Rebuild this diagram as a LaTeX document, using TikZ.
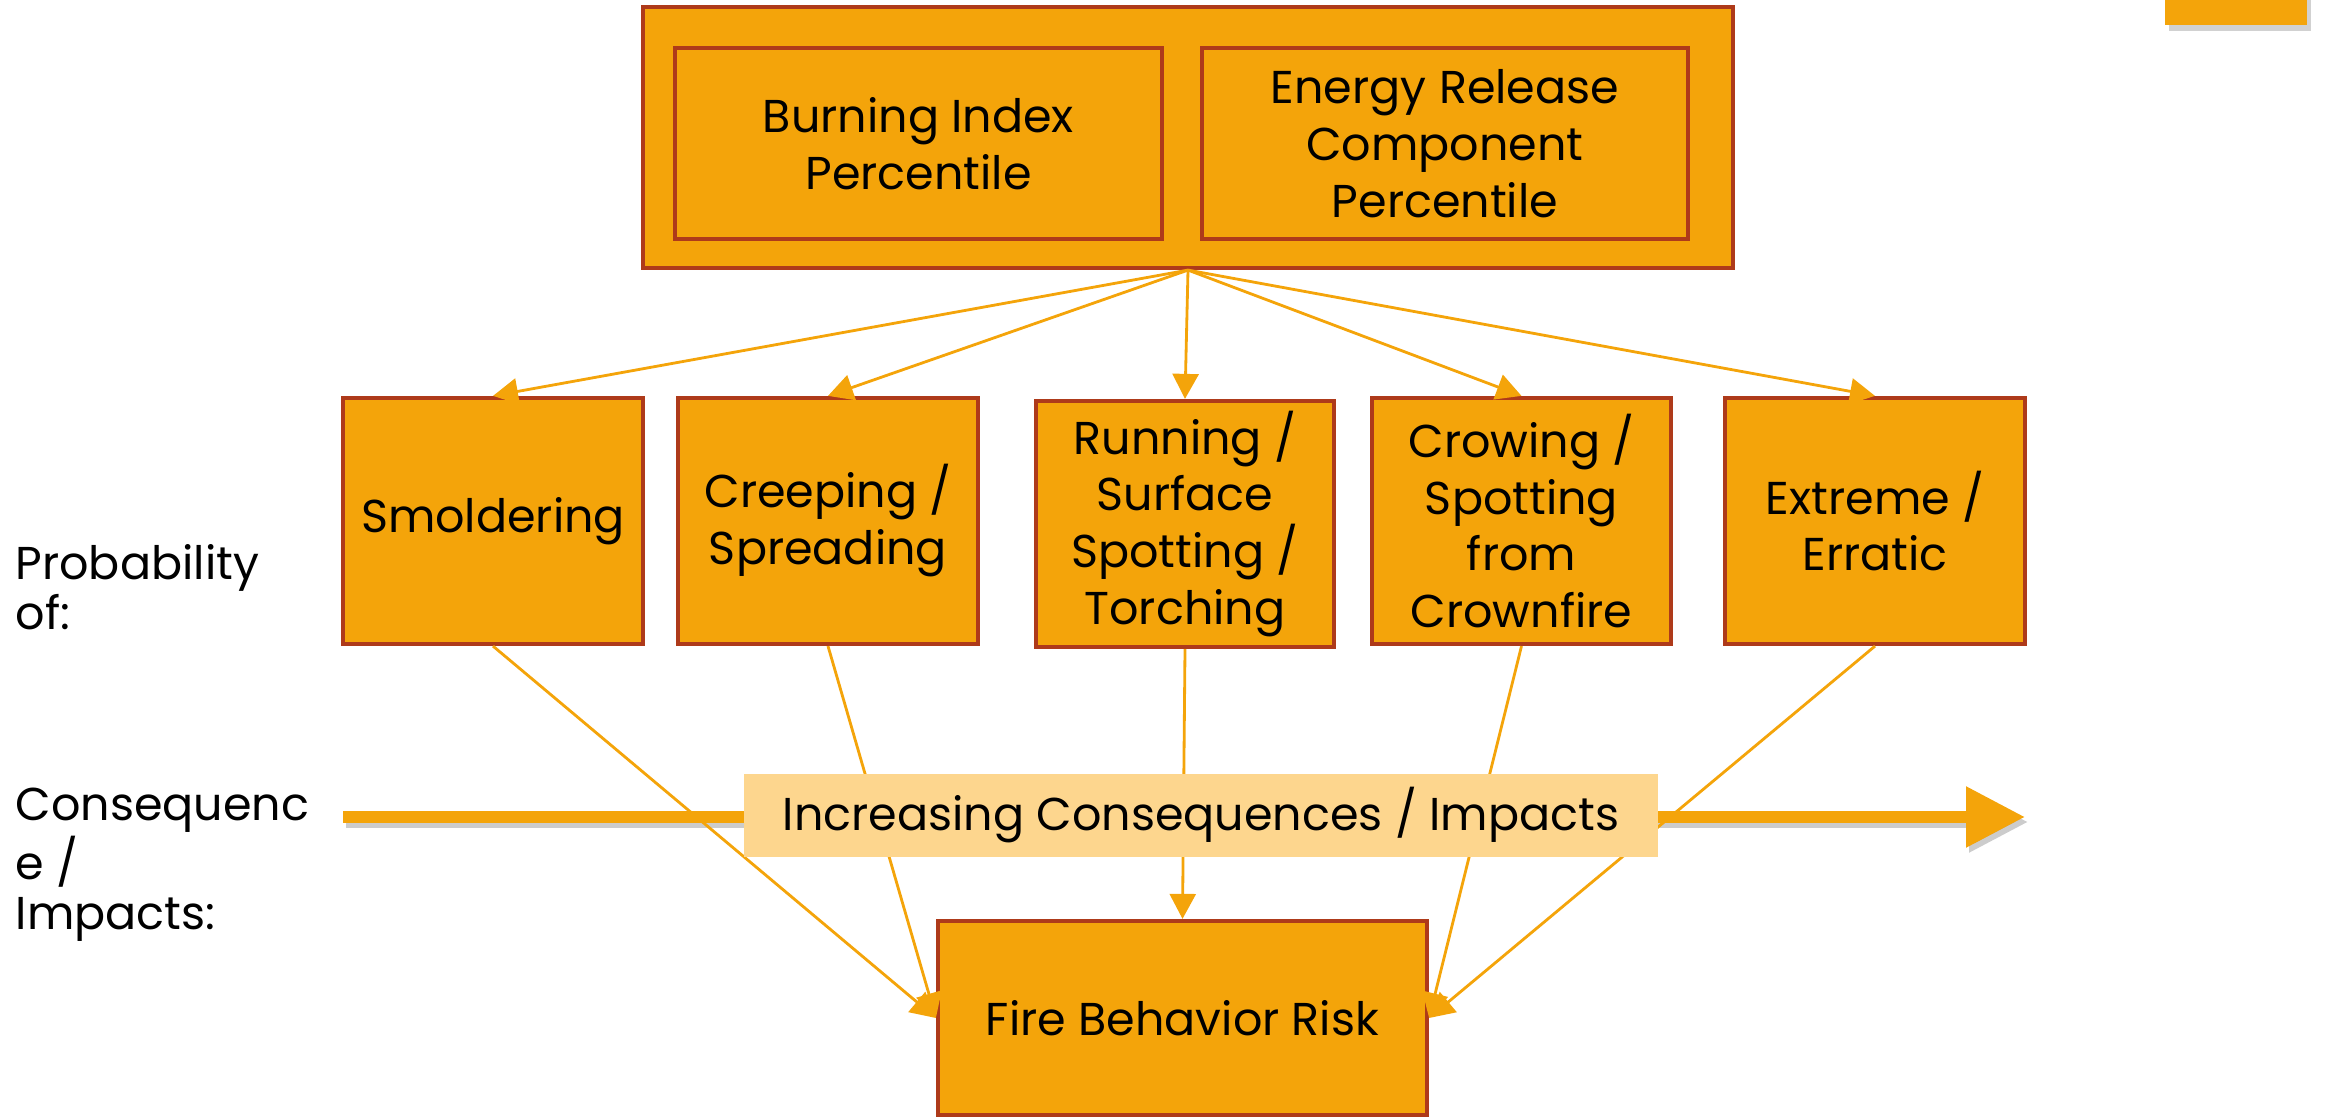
\documentclass[tikz,border=0pt]{standalone}
\usepackage{fontspec}
\setmainfont{Poppins}
\usetikzlibrary{arrows.meta,positioning}
\definecolor{fire}{HTML}{F4A40A}
\definecolor{rust}{HTML}{AE3A1A}
\definecolor{pale}{HTML}{FDD68E}
\tikzset{box/.style={draw=rust,very thick,fill=fire,align=center,inner sep=2pt,font=\fontsize{13.1}{16.2}\selectfont,minimum width=30mm,minimum height=24.6mm},
  arr/.style={-{Triangle[length=2.5mm,width=2.6mm]},line width=0.8pt,fire},
  bigarr/.style={-{Triangle[length=5.9mm,width=5.8mm]},line width=1.2mm},
  lbl/.style={anchor=west,align=left,inner sep=0pt,font=\fontsize{13.1}{14.2}\selectfont}}

\begin{document}
\begin{tikzpicture}[x=0.1mm,y=-0.1mm]
\useasboundingbox (0,0) rectangle (2338,1117);
% corner tab
\fill[black,opacity=.18] (2169,-5) rectangle (2311,31);
\fill[fire] (2165,-5) rectangle (2307,25);
% indices
\node[box,minimum width=109mm,minimum height=26.1mm] (top) at (1188,137.5) {};
\node[box,minimum width=48.7mm,minimum height=19.1mm] (bi) at (918.5,143.5) {Burning Index\\Percentile};
\node[box,minimum width=48.6mm,minimum height=19.1mm] (erc) at (1445,143.5) {Energy Release\\Component\\Percentile};
% fire types
\node[box] (smold) at (493,521) {Smoldering};
\node[box] (creep) at (828,521) {Creeping /\\Spreading};
\node[box,minimum width=29.8mm] (run) at (1185,524) {Running /\\Surface\\Spotting /\\Torching};
\node[box,minimum width=29.9mm] (crown) at (1521.5,521) {Crowing /\\Spotting\\from\\Crownfire};
\node[box] (extreme) at (1875,521) {Extreme /\\Erratic};
\node[box,minimum width=48.9mm,minimum height=19.4mm] (risk) at (1182.5,1018) {Fire Behavior Risk};
% side labels
\node[lbl] (prob) at (15,587) {Probability\\of:};
\node[lbl] (cons) at (15,865) {Consequenc\\e /\\Impacts:};
% consequence axis
\coordinate (axL) at (343,817);
\coordinate (axR) at (2025,817);
\draw[bigarr,black,opacity=.2] ([shift={(3,5)}]axL) -- ([shift={(3,5)}]axR);
\draw[bigarr,fire] (axL) -- (axR);
% connectors
\foreach \n in {smold,creep,run,crown,extreme}
  \draw[arr] (top.south) -- (\n.north);
\draw[arr] (smold.south) -- (risk.west);
\draw[arr] (creep.south) -- (risk.west);
\draw[arr] (run.south) -- (risk.north);
\draw[arr] (crown.south) -- (risk.east);
\draw[arr] (extreme.south) -- (risk.east);
\node[fill=pale,minimum width=91.4mm,minimum height=8.3mm,inner sep=0pt,font=\fontsize{13.1}{16}\selectfont] (incr) at (1201,815.5) {Increasing Consequences / Impacts};
\end{tikzpicture}
\end{document}
